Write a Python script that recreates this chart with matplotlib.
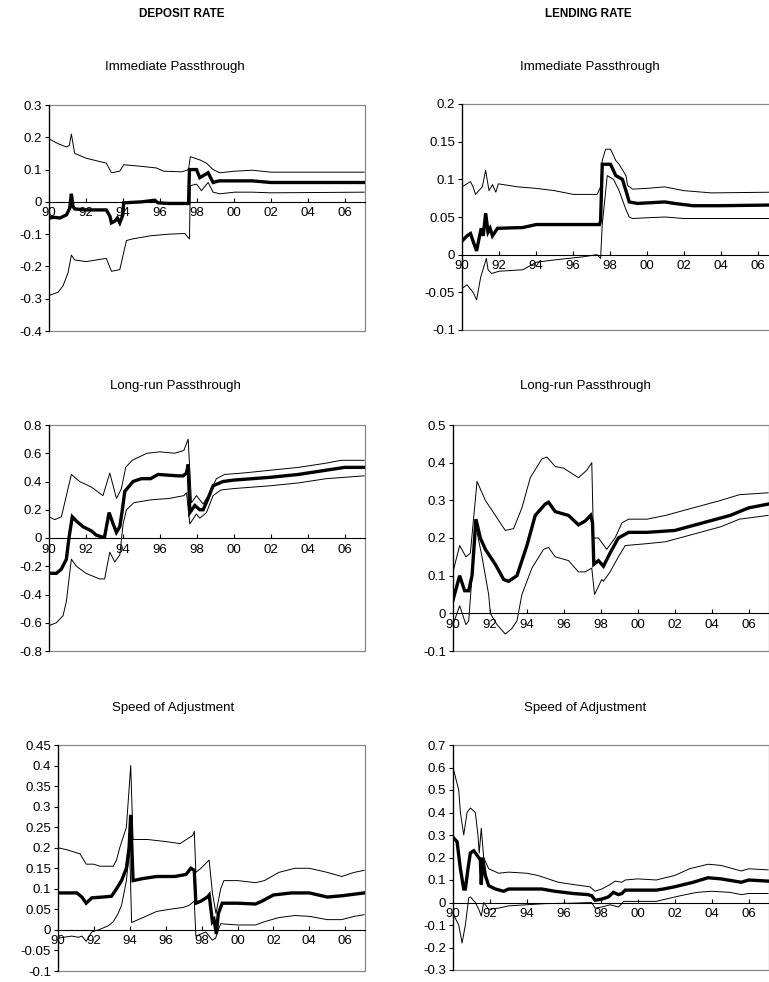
import matplotlib
matplotlib.use("Agg")
import matplotlib.pyplot as plt
import numpy as np
from matplotlib.patches import Rectangle
from matplotlib.ticker import FuncFormatter, MultipleLocator

plt.rcParams["font.family"] = ["Liberation Sans", "DejaVu Sans"]

W, H = 769, 982          # output size in pixels (dpi 100)
XMIN, XMAX = 1990.0, 2007.1

# ---- deposit rate, immediate passthrough ----
dep_imm_mid_x = [1990.0, 1990.3, 1990.6, 1990.95, 1991.12, 1991.21, 1991.3, 1991.4, 1992.0, 1993.1,
                 1993.3, 1993.38, 1993.56, 1993.7, 1993.83, 1994.0, 1994.04, 1995.0, 1995.72, 1995.9,
                 1996.5, 1997.55, 1997.6, 1997.98, 1998.16, 1998.61, 1998.88, 1999.2, 2000.0, 2001.0,
                 2002.0, 2004.0, 2007.05]
dep_imm_mid_y = [-0.05, -0.048, -0.05, -0.04, -0.02, 0.025, -0.015, -0.022, -0.025, -0.025,
                 -0.045, -0.065, -0.06, -0.05, -0.065, -0.04, -0.003, 0.0, 0.005, -0.003,
                 -0.005, -0.005, 0.1, 0.1, 0.075, 0.09, 0.06, 0.065, 0.065, 0.065,
                 0.06, 0.06, 0.06]
dep_imm_hi_x = [1990.0, 1990.5, 1990.94, 1991.1, 1991.21, 1991.39, 1992.02, 1993.1, 1993.38, 1993.83,
                1994.04, 1995.0, 1995.81, 1996.2, 1997.2, 1997.55, 1997.65, 1998.16, 1998.52, 1998.88,
                1999.24, 2000.05, 2001.0, 2002.0, 2007.05]
dep_imm_hi_y = [0.195, 0.18, 0.17, 0.175, 0.21, 0.15, 0.135, 0.12, 0.09, 0.095,
                0.115, 0.11, 0.105, 0.095, 0.093, 0.1, 0.14, 0.13, 0.12, 0.1,
                0.09, 0.095, 0.098, 0.092, 0.092]
dep_imm_lo_x = [1990.0, 1990.49, 1990.76, 1991.03, 1991.21, 1991.39, 1992.02, 1993.1, 1993.38, 1993.83,
                1994.19, 1994.5, 1995.5, 1996.5, 1997.35, 1997.6, 1997.65, 1997.98, 1998.25, 1998.61,
                1998.88, 1999.24, 2000.05, 2001.0, 2002.0, 2007.05]
dep_imm_lo_y = [-0.29, -0.28, -0.26, -0.22, -0.165, -0.18, -0.185, -0.175, -0.215, -0.21,
                -0.12, -0.115, -0.105, -0.1, -0.098, -0.115, 0.05, 0.055, 0.035, 0.06,
                0.03, 0.025, 0.03, 0.03, 0.028, 0.03]

# ---- lending rate, immediate passthrough ----
len_imm_mid_x = [1990.0, 1990.27, 1990.46, 1990.64, 1990.79, 1990.91, 1991.04, 1991.15, 1991.28, 1991.41,
                 1991.52, 1991.65, 1991.92, 1993.29, 1994.02, 1997.44, 1997.5, 1997.59, 1998.04, 1998.32,
                 1998.68, 1998.87, 1999.05, 1999.5, 2000.97, 2001.5, 2002.5, 2004.0, 2007.05]
len_imm_mid_y = [0.018, 0.025, 0.028, 0.015, 0.005, 0.02, 0.035, 0.025, 0.055, 0.03,
                 0.035, 0.025, 0.035, 0.036, 0.04, 0.04, 0.045, 0.12, 0.12, 0.105,
                 0.1, 0.085, 0.07, 0.068, 0.07, 0.068, 0.065, 0.065, 0.066]
len_imm_hi_x = [1990.0, 1990.46, 1990.6, 1990.73, 1990.91, 1991.1, 1991.28, 1991.46, 1991.65, 1991.83,
                1991.97, 1993.02, 1994.02, 1995.0, 1996.03, 1997.31, 1997.5, 1997.59, 1997.77, 1998.04,
                1998.32, 1998.5, 1998.87, 1998.96, 1999.23, 2000.0, 2000.97, 2002.0, 2003.5, 2007.05]
len_imm_hi_y = [0.09, 0.097, 0.09, 0.08, 0.085, 0.09, 0.112, 0.085, 0.093, 0.083,
                0.094, 0.09, 0.088, 0.085, 0.08, 0.08, 0.09, 0.125, 0.14, 0.14,
                0.125, 0.12, 0.105, 0.092, 0.087, 0.088, 0.09, 0.085, 0.082, 0.083]
len_imm_lo_x = [1990.0, 1990.27, 1990.6, 1990.79, 1991.01, 1991.32, 1991.41, 1991.6, 1992.01, 1993.3,
                1994.02, 1995.0, 1996.5, 1997.31, 1997.5, 1997.59, 1997.86, 1998.2, 1998.5, 1998.87,
                1999.05, 1999.23, 2000.0, 2001.0, 2002.0, 2007.05]
len_imm_lo_y = [-0.045, -0.04, -0.05, -0.06, -0.03, -0.005, -0.02, -0.025, -0.022, -0.02,
                -0.01, -0.007, -0.003, 0.0, -0.005, 0.04, 0.105, 0.1, 0.085, 0.06,
                0.05, 0.048, 0.049, 0.05, 0.048, 0.048]

# ---- deposit rate, long-run passthrough ----
dep_lr_mid_x = [1990.0, 1990.4, 1990.67, 1990.94, 1991.08, 1991.26, 1991.48, 1991.84, 1992.3, 1992.56,
                1992.92, 1993.01, 1993.25, 1993.47, 1993.65, 1993.83, 1993.97, 1994.1, 1994.55, 1995.0,
                1995.5, 1995.9, 1996.99, 1997.26, 1997.44, 1997.53, 1997.62, 1997.89, 1998.16, 1998.34,
                1998.61, 1998.88, 1999.42, 2000.0, 2002.0, 2003.5, 2005.0, 2006.0, 2007.05]
dep_lr_mid_y = [-0.25, -0.25, -0.22, -0.15, 0.0, 0.15, 0.12, 0.08, 0.05, 0.02,
                0.005, 0.01, 0.18, 0.1, 0.04, 0.08, 0.2, 0.33, 0.4, 0.42,
                0.42, 0.45, 0.44, 0.44, 0.46, 0.52, 0.18, 0.23, 0.2, 0.2,
                0.28, 0.37, 0.4, 0.41, 0.43, 0.45, 0.48, 0.5, 0.5]
dep_lr_hi_x = [1990.0, 1990.31, 1990.67, 1990.85, 1991.21, 1991.66, 1992.3, 1992.92, 1993.29, 1993.65,
               1993.92, 1994.15, 1994.5, 1995.3, 1996.0, 1996.8, 1997.3, 1997.53, 1997.71, 1997.98,
               1998.34, 1998.61, 1999.06, 1999.5, 2000.5, 2002.0, 2003.5, 2005.0, 2005.8, 2007.05]
dep_lr_hi_y = [0.15, 0.13, 0.15, 0.25, 0.45, 0.4, 0.36, 0.3, 0.46, 0.28,
               0.35, 0.5, 0.55, 0.6, 0.61, 0.6, 0.62, 0.7, 0.25, 0.3,
               0.24, 0.3, 0.42, 0.45, 0.46, 0.48, 0.5, 0.53, 0.55, 0.55]
dep_lr_lo_x = [1990.0, 1990.4, 1990.76, 1990.94, 1991.12, 1991.21, 1991.48, 1992.0, 1992.74, 1993.01,
               1993.29, 1993.56, 1993.83, 1994.01, 1994.19, 1994.6, 1995.5, 1996.5, 1997.3, 1997.44,
               1997.62, 1997.98, 1998.16, 1998.52, 1998.88, 1999.3, 2000.0, 2002.0, 2003.5, 2005.0,
               2007.05]
dep_lr_lo_y = [-0.62, -0.6, -0.55, -0.45, -0.25, -0.15, -0.2, -0.25, -0.29, -0.29,
               -0.1, -0.17, -0.12, 0.1, 0.2, 0.25, 0.27, 0.28, 0.3, 0.32,
               0.1, 0.17, 0.14, 0.18, 0.3, 0.34, 0.35, 0.37, 0.39, 0.42,
               0.44]

# ---- lending rate, long-run passthrough ----
len_lr_mid_x = [1990.0, 1990.36, 1990.63, 1990.85, 1991.03, 1991.24, 1991.48, 1991.75, 1992.29, 1992.74,
                1993.01, 1993.46, 1994.0, 1994.45, 1994.99, 1995.17, 1995.53, 1996.25, 1996.79, 1997.15,
                1997.45, 1997.55, 1997.62, 1997.87, 1998.14, 1998.5, 1998.95, 1999.5, 2000.5, 2002.0,
                2003.5, 2005.0, 2006.0, 2007.05]
len_lr_mid_y = [0.035, 0.1, 0.06, 0.06, 0.1, 0.25, 0.2, 0.17, 0.13, 0.09,
                0.085, 0.1, 0.18, 0.26, 0.29, 0.295, 0.27, 0.26, 0.235, 0.245,
                0.26, 0.24, 0.13, 0.14, 0.125, 0.16, 0.2, 0.215, 0.215, 0.22,
                0.24, 0.26, 0.28, 0.29]
len_lr_hi_x = [1990.0, 1990.36, 1990.7, 1990.94, 1991.3, 1991.75, 1992.29, 1992.83, 1993.28, 1993.73,
               1994.18, 1994.81, 1995.08, 1995.53, 1996.0, 1996.79, 1997.24, 1997.51, 1997.6, 1997.87,
               1998.32, 1998.77, 1999.14, 1999.5, 2000.5, 2001.5, 2003.0, 2004.5, 2005.5, 2007.05]
len_lr_hi_y = [0.11, 0.18, 0.15, 0.16, 0.35, 0.3, 0.26, 0.22, 0.225, 0.28,
               0.36, 0.41, 0.415, 0.39, 0.385, 0.36, 0.38, 0.4, 0.2, 0.2,
               0.17, 0.2, 0.24, 0.25, 0.25, 0.26, 0.28, 0.3, 0.315, 0.32]
len_lr_lo_x = [1990.0, 1990.36, 1990.7, 1990.85, 1991.03, 1991.24, 1991.57, 1991.93, 1992.02, 1992.38,
               1992.83, 1993.19, 1993.46, 1993.73, 1994.27, 1994.9, 1995.17, 1995.53, 1996.25, 1996.79,
               1997.15, 1997.51, 1997.66, 1998.05, 1998.14, 1998.5, 1998.95, 1999.32, 2000.5, 2001.5,
               2003.0, 2004.5, 2005.5, 2007.05]
len_lr_lo_y = [-0.03, 0.02, -0.03, -0.02, 0.1, 0.23, 0.15, 0.05, 0.0, -0.03,
               -0.055, -0.04, -0.02, 0.05, 0.12, 0.17, 0.175, 0.15, 0.14, 0.11,
               0.11, 0.12, 0.05, 0.09, 0.085, 0.11, 0.15, 0.18, 0.185, 0.19,
               0.21, 0.23, 0.25, 0.26]

# ---- deposit rate, speed of adjustment ----
dep_sp_mid_x = [1990.0, 1991.05, 1991.33, 1991.57, 1991.88, 1992.5, 1992.98, 1993.26, 1993.54, 1993.81,
                1993.96, 1994.05, 1994.18, 1994.73, 1995.5, 1996.5, 1997.13, 1997.4, 1997.59, 1997.68,
                1997.96, 1998.32, 1998.42, 1998.6, 1998.69, 1998.82, 1998.93, 1999.15, 2000.0, 2001.0,
                2001.36, 2002.0, 2003.0, 2004.0, 2005.0, 2005.8, 2007.05]
dep_sp_mid_y = [0.09, 0.09, 0.08, 0.065, 0.078, 0.08, 0.082, 0.1, 0.12, 0.15,
                0.2, 0.28, 0.12, 0.125, 0.13, 0.13, 0.135, 0.15, 0.145, 0.065,
                0.07, 0.08, 0.085, 0.02, 0.025, -0.01, 0.04, 0.065, 0.065, 0.063,
                0.07, 0.085, 0.09, 0.09, 0.08, 0.083, 0.09]
dep_sp_hi_x = [1990.0, 1990.5, 1991.23, 1991.57, 1991.97, 1992.34, 1993.08, 1993.26, 1993.44, 1993.81,
               1994.05, 1994.18, 1995.0, 1996.0, 1996.8, 1997.5, 1997.59, 1997.68, 1997.96, 1998.42,
               1998.6, 1998.8, 1999.06, 1999.24, 2000.0, 2001.0, 2001.5, 2002.3, 2003.2, 2004.0,
               2005.0, 2005.8, 2006.5, 2007.05]
dep_sp_hi_y = [0.2, 0.195, 0.185, 0.16, 0.16, 0.155, 0.155, 0.17, 0.2, 0.25,
               0.4, 0.22, 0.22, 0.215, 0.21, 0.23, 0.24, 0.14, 0.15, 0.17,
               0.09, 0.04, 0.1, 0.12, 0.12, 0.115, 0.12, 0.14, 0.15, 0.15,
               0.14, 0.13, 0.14, 0.145]
dep_sp_lo_x = [1990.0, 1990.77, 1991.14, 1991.33, 1991.57, 1991.88, 1992.25, 1992.8, 1993.08, 1993.35,
               1993.54, 1993.81, 1993.99, 1994.1, 1994.73, 1995.5, 1996.2, 1997.0, 1997.31, 1997.59,
               1997.68, 1997.96, 1998.23, 1998.6, 1998.78, 1998.93, 1999.06, 2000.0, 2001.0, 2001.5,
               2002.3, 2003.2, 2004.0, 2005.0, 2005.8, 2006.5, 2007.05]
dep_sp_lo_y = [-0.02, -0.015, -0.018, -0.015, -0.028, -0.005, 0.0, 0.01, 0.02, 0.04,
               0.06, 0.12, 0.2, 0.018, 0.03, 0.045, 0.05, 0.055, 0.06, 0.07,
               -0.015, -0.01, -0.005, -0.025, -0.02, 0.0, 0.015, 0.012, 0.012, 0.02,
               0.03, 0.035, 0.033, 0.025, 0.025, 0.033, 0.037]

# ---- lending rate, speed of adjustment ----
len_sp_mid_x = [1990.0, 1990.22, 1990.4, 1990.58, 1990.67, 1990.81, 1990.94, 1991.12, 1991.39, 1991.48,
                1991.53, 1991.6, 1991.75, 1991.93, 1992.29, 1992.74, 1993.01, 1994.0, 1994.8, 1995.5,
                1996.5, 1997.3, 1997.51, 1997.69, 1998.05, 1998.41, 1998.68, 1998.95, 1999.14, 1999.32,
                2000.0, 2001.0, 2001.39, 2002.0, 2003.0, 2003.8, 2004.5, 2005.6, 2006.0, 2007.05]
len_sp_mid_y = [0.29, 0.27, 0.15, 0.06, 0.06, 0.15, 0.22, 0.23, 0.2, 0.19,
                0.08, 0.2, 0.12, 0.075, 0.06, 0.05, 0.06, 0.06, 0.06, 0.05,
                0.04, 0.035, 0.03, 0.01, 0.015, 0.025, 0.045, 0.035, 0.04, 0.055,
                0.055, 0.055, 0.06, 0.07, 0.09, 0.11, 0.105, 0.09, 0.1, 0.095]
len_sp_hi_x = [1990.0, 1990.31, 1990.4, 1990.58, 1990.76, 1990.94, 1991.21, 1991.35, 1991.42, 1991.53,
               1991.66, 1991.93, 1992.47, 1993.0, 1994.0, 1994.6, 1995.7, 1996.5, 1997.4, 1997.69,
               1998.05, 1998.5, 1998.77, 1999.14, 1999.32, 2000.0, 2001.0, 2001.48, 2002.0, 2002.8,
               2003.8, 2004.5, 2005.6, 2006.0, 2007.05]
len_sp_hi_y = [0.6, 0.5, 0.4, 0.3, 0.4, 0.42, 0.4, 0.3, 0.22, 0.33,
               0.2, 0.15, 0.13, 0.135, 0.13, 0.12, 0.09, 0.08, 0.07, 0.05,
               0.06, 0.08, 0.095, 0.09, 0.1, 0.105, 0.1, 0.11, 0.12, 0.15,
               0.17, 0.165, 0.14, 0.15, 0.145]
len_sp_lo_x = [1990.0, 1990.31, 1990.49, 1990.67, 1990.85, 1990.94, 1991.21, 1991.39, 1991.53, 1991.66,
               1991.93, 1992.47, 1993.0, 1994.0, 1995.0, 1996.5, 1997.5, 1997.69, 1998.05, 1998.5,
               1998.95, 1999.14, 1999.23, 2000.0, 2001.0, 2001.5, 2002.3, 2003.2, 2004.0, 2005.0,
               2005.6, 2006.0, 2007.05]
len_sp_lo_y = [-0.05, -0.1, -0.18, -0.1, 0.02, 0.025, 0.0, -0.03, -0.06, 0.0,
               -0.03, -0.025, -0.015, -0.01, -0.005, -0.003, 0.0, -0.025, -0.02, -0.01,
               -0.02, -0.005, 0.005, 0.005, 0.005, 0.015, 0.03, 0.045, 0.05, 0.045,
               0.035, 0.04, 0.04]

year_ticks = [1990, 1992, 1994, 1996, 1998, 2000, 2002, 2004, 2006]
year_labels = ["90", "92", "94", "96", "98", "00", "02", "04", "06"]

# plot areas in pixels: (left, top, right, bottom), y range, y step, subtitle position
PANELS = [
    ((49, 105, 365, 331), (-0.4, 0.3), 0.1, "Immediate Passthrough", (175, 67),
     (dep_imm_lo_x, dep_imm_lo_y), (dep_imm_hi_x, dep_imm_hi_y), (dep_imm_mid_x, dep_imm_mid_y)),
    ((462, 104, 778, 330), (-0.1, 0.2), 0.05, "Immediate Passthrough", (590, 67),
     (len_imm_lo_x, len_imm_lo_y), (len_imm_hi_x, len_imm_hi_y), (len_imm_mid_x, len_imm_mid_y)),
    ((49, 425, 365, 651), (-0.8, 0.8), 0.2, "Long-run Passthrough", (175, 386),
     (dep_lr_lo_x, dep_lr_lo_y), (dep_lr_hi_x, dep_lr_hi_y), (dep_lr_mid_x, dep_lr_mid_y)),
    ((453, 425, 769, 651), (-0.1, 0.5), 0.1, "Long-run Passthrough", (585, 386),
     (len_lr_lo_x, len_lr_lo_y), (len_lr_hi_x, len_lr_hi_y), (len_lr_mid_x, len_lr_mid_y)),
    ((58, 745, 365, 971), (-0.1, 0.45), 0.05, "Speed of Adjustment", (173, 708),
     (dep_sp_lo_x, dep_sp_lo_y), (dep_sp_hi_x, dep_sp_hi_y), (dep_sp_mid_x, dep_sp_mid_y)),
    ((453, 745, 769, 970), (-0.3, 0.7), 0.1, "Speed of Adjustment", (585, 708),
     (len_sp_lo_x, len_sp_lo_y), (len_sp_hi_x, len_sp_hi_y), (len_sp_mid_x, len_sp_mid_y)),
]


def fmt(v, _pos):
    v = round(v, 3)
    return "0" if v == 0 else f"{v:g}"


fig = plt.figure(figsize=(W / 100, H / 100), dpi=100)

for box, ylim, step, title, (tx, ty), lo, hi, mid in PANELS:
    l, t, r, b = box
    ax = fig.add_axes([l / W, 1 - b / H, (r - l) / W, (b - t) / H])
    ax.plot(*lo, color="black", lw=0.7)
    ax.plot(*hi, color="black", lw=0.7)
    ax.plot(*mid, color="black", lw=2.4, solid_joinstyle="miter")
    ax.set_xlim(XMIN, XMAX)
    ax.set_ylim(*ylim)
    ax.yaxis.set_major_locator(MultipleLocator(step))
    ax.yaxis.set_major_formatter(FuncFormatter(fmt))
    ax.set_xticks(year_ticks, year_labels)

    for s in ("top", "right"):
        ax.spines[s].set_visible(False)
    ax.add_patch(Rectangle((0, 0), 1, 1, transform=ax.transAxes, fill=False,
                           edgecolor="#888888", lw=0.9, clip_on=False, zorder=0))
    ax.spines["left"].set_color("black")
    ax.spines["left"].set_linewidth(0.9)
    ax.spines["bottom"].set_position(("data", 0))
    ax.spines["bottom"].set_linewidth(0.8)
    ax.tick_params(axis="x", direction="in", length=3, width=0.8, pad=4, labelsize=9.5)
    ax.tick_params(axis="y", direction="out", length=3, width=0.8, pad=2, labelsize=9.5)
    ax.set_facecolor("white")

    fig.text(tx / W, 1 - ty / H, title, ha="center", va="center", fontsize=9.5)

fig.text(182 / W, 1 - 14 / H, "DEPOSIT RATE", ha="center", va="center",
         fontsize=8.5, fontweight="bold")
fig.text(588 / W, 1 - 14 / H, "LENDING RATE", ha="center", va="center",
         fontsize=8.5, fontweight="bold")

fig.savefig("out.png", dpi=100)
